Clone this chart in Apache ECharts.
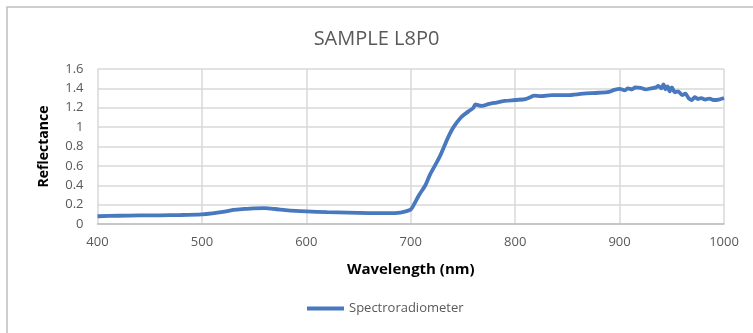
<!DOCTYPE html>
<html><head><meta charset="utf-8">
<script src="https://cdn.jsdelivr.net/npm/echarts@6/dist/echarts.min.js"></script>
<style>html,body{margin:0;padding:0;background:#fff}#c{width:753px;height:333px}</style>
</head><body><div id="c"></div>
<script>
const wavelengths = [400,420,440,460,480,500,510,520,530,540,550,560,570,580,590,600,620,640,660,680,690,695,700,703,708,714,718,723,728,732,736,741,748,755,760,762,765,768,775,780,790,800,810,815,818,825,835,850,865,880,890,895,900,905,908,912,915,920,925,930,935,937,940,942,944,946,948,950,953,956,960,963,966,969,972,975,978,982,986,990,995,1000];
const reflectance = [0.08,0.085,0.088,0.09,0.093,0.10,0.11,0.125,0.145,0.155,0.162,0.163,0.155,0.143,0.135,0.13,0.122,0.118,0.113,0.112,0.118,0.13,0.15,0.2,0.3,0.4,0.5,0.6,0.7,0.8,0.9,1.0,1.1,1.16,1.2,1.235,1.225,1.22,1.24,1.25,1.27,1.28,1.29,1.31,1.325,1.32,1.33,1.33,1.345,1.355,1.365,1.385,1.395,1.38,1.40,1.39,1.41,1.405,1.39,1.40,1.41,1.425,1.40,1.44,1.39,1.42,1.37,1.41,1.36,1.37,1.33,1.345,1.30,1.28,1.31,1.29,1.30,1.285,1.295,1.28,1.285,1.30];
const xTicks = [400,500,600,700,800,900,1000];
const yTicks = [0,0.2,0.4,0.6,0.8,1,1.2,1.4,1.6];
const seriesName = 'Spectroradiometer';
const chartTitle = 'SAMPLE L8P0';

const chart = echarts.init(document.getElementById('c'), null, {renderer:'canvas'});
const font = '"Open Sans", "Liberation Sans", sans-serif';
const lineColor = '#4878BE';
chart.setOption({
  animation:false,
  backgroundColor:'#fff',
  graphic:[{type:'rect',shape:{x:7,y:7,width:760,height:340},style:{fill:'none',stroke:'#bfbfbf',lineWidth:1.5},silent:true}],
  title:{text:chartTitle,left:'center',top:24,textStyle:{fontFamily:font,fontSize:20,fontWeight:'normal',color:'#595959'}},
  legend:{bottom:13,left:302,itemWidth:37,itemHeight:4,itemGap:4,icon:'rect',
    textStyle:{fontFamily:font,fontSize:13,color:'#595959'},data:[seriesName]},
  grid:{left:97.5,right:29,top:69,bottom:109},
  xAxis:{type:'value',min:400,max:1000,interval:100,
    name:'Wavelength (nm)',nameLocation:'middle',nameGap:38,
    nameTextStyle:{fontFamily:font,fontSize:15,fontWeight:'bold',color:'#000'},
    axisLine:{show:true,lineStyle:{color:'#bfbfbf',width:1.5}},axisTick:{show:false},
    axisLabel:{fontFamily:font,fontSize:13,color:'#595959',margin:12,
      formatter:v=>xTicks.includes(v)?String(v):''},
    splitLine:{show:true,lineStyle:{color:'#d9d9d9',width:1.5}}},
  yAxis:{type:'value',min:0,max:1.6,interval:0.2,
    name:'Reflectance',nameLocation:'middle',nameGap:46,
    nameTextStyle:{fontFamily:font,fontSize:14,fontWeight:'bold',color:'#000'},
    axisLine:{show:false},axisTick:{show:false},
    axisLabel:{fontFamily:font,fontSize:13,color:'#595959',margin:14,
      formatter:v=>{const t=yTicks.find(x=>Math.abs(x-v)<1e-9);return t===undefined?'':String(t);}},
    splitLine:{show:true,lineStyle:{color:'#d9d9d9',width:1.5}}},
  series:[{name:seriesName,type:'line',showSymbol:false,smooth:0.3,
    lineStyle:{color:lineColor,width:3.8},itemStyle:{color:lineColor},
    data:wavelengths.map((w,i)=>[w,reflectance[i]])}]
});
</script></body></html>
